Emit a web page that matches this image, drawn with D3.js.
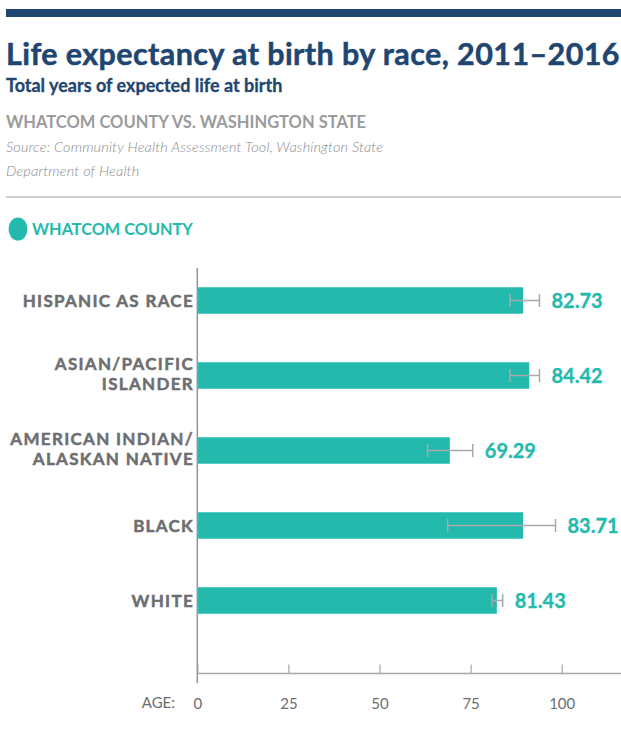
<!DOCTYPE html>
<html lang="en">
<head>
    <meta charset="UTF-8">
    <title>Life expectancy at birth by race</title>
    <script src="https://cdn.jsdelivr.net/npm/d3@7"></script>
    <style>
        body { margin: 0; background: #fff; }
        text { font-family: Lato, "Open Sans", sans-serif; }
    </style>
</head>
<body>
    <svg id="main" width="621" height="754"></svg>
    <script>
        // data
        const categories = [['HISPANIC AS RACE'], ['ASIAN/PACIFIC', 'ISLANDER'],
            ['AMERICAN INDIAN/', 'ALASKAN NATIVE'], ['BLACK'], ['WHITE']];
        const barValues = [89.4, 91.1, 69.3, 89.4, 82.2];   // drawn bar lengths
        const valueLabels = ['82.73', '84.42', '69.29', '83.71', '81.43'];
        const errLow = [85.8, 85.8, 63.2, 68.7, 80.9];
        const errHigh = [93.9, 93.9, 75.6, 98.3, 83.8];
        const ticks = [0, 25, 50, 75, 100];

        const teal = '#23baad';
        const navy = '#1f4670';
        const grey = '#6d6e71';

        let svg = d3.select('svg#main');

        // header
        svg.append('rect').attr('x', 6).attr('y', 9).attr('width', 615).attr('height', 8).attr('fill', navy);
        svg.append('text').attr('x', 6).attr('y', 65)
            .attr('font-size', 30.5).attr('font-weight', 700).attr('letter-spacing', 0.4)
            .attr('fill', navy).attr('stroke', navy).attr('stroke-width', 0.5)
            .text('Life expectancy at birth by race, 2011\u20132016');
        svg.append('text').attr('x', 6).attr('y', 92)
            .attr('font-size', 18).attr('font-weight', 700).attr('fill', navy)
            .attr('stroke', navy).attr('stroke-width', 0.3)
            .text('Total years of expected life at birth');
        svg.append('text').attr('x', 6).attr('y', 128)
            .attr('font-size', 16.5).attr('font-weight', 700).attr('fill', '#9a9b9d')
            .text('WHATCOM COUNTY VS. WASHINGTON STATE');
        svg.append('text').attr('x', 6).attr('y', 152)
            .attr('font-size', 14.5).attr('font-weight', 300).attr('font-style', 'italic')
            .attr('letter-spacing', 0.15).attr('fill', '#8a8b8d')
            .text('Source: Community Health Assessment Tool, Washington State');
        svg.append('text').attr('x', 6).attr('y', 176)
            .attr('font-size', 14.5).attr('font-weight', 300).attr('font-style', 'italic')
            .attr('letter-spacing', 0.15).attr('fill', '#8a8b8d')
            .text('Department of Health');
        svg.append('line').attr('x1', 6).attr('x2', 621).attr('y1', 197).attr('y2', 197)
            .attr('stroke', '#bcbdc0').attr('stroke-width', 1.5);

        // legend
        svg.append('ellipse').attr('cx', 18).attr('cy', 229).attr('rx', 9.5).attr('ry', 11.5).attr('fill', teal);
        svg.append('text').attr('x', 32).attr('y', 235)
            .attr('font-size', 16.3).attr('font-weight', 700).attr('fill', teal)
            .text('WHATCOM COUNTY');

        // scales
        let xScale = d3.scaleLinear().domain([0, 100]).range([197.3, 561.7]);
        let yScale = d3.scaleBand().domain(d3.range(categories.length))
            .range([263, 638]).paddingInner(0.647).paddingOuter(0.3235);

        // x axis
        let xAxis = svg.append('g').attr('transform', 'translate(0,673.5)')
            .call(d3.axisBottom(xScale).tickValues(ticks).tickSize(-9).tickPadding(25));
        xAxis.select('.domain').remove();
        xAxis.append('line').attr('x1', xScale(0)).attr('x2', 621)
            .attr('stroke', '#a7a9ac').attr('stroke-width', 1.5);
        xAxis.selectAll('.tick line').attr('stroke', '#a7a9ac').attr('stroke-width', 1.2);
        xAxis.selectAll('.tick text').attr('fill', grey).attr('font-size', 15)
            .attr('font-family', 'Lato, sans-serif');
        svg.append('text').attr('x', 175).attr('y', 708).attr('text-anchor', 'end')
            .attr('font-size', 15).attr('fill', grey).text('AGE:');

        // y axis line
        svg.append('line').attr('x1', xScale(0)).attr('x2', xScale(0)).attr('y1', 268).attr('y2', 683)
            .attr('stroke', '#939598').attr('stroke-width', 1.5);

        let rows = svg.selectAll('g.row')
            .data(categories)
            .enter()
            .append('g')
            .attr('class', 'row');

        // bars
        rows.append('rect')
            .attr('x', xScale(0) + 0.75)
            .attr('y', function(d, i) { return yScale(i); })
            .attr('width', function(d, i) { return xScale(barValues[i]) - xScale(0) - 0.75; })
            .attr('height', yScale.bandwidth())
            .attr('fill', teal);

        // error bars
        let cy = function(i) { return yScale(i) + yScale.bandwidth() / 2; };
        rows.append('line')
            .attr('x1', function(d, i) { return xScale(errLow[i]); })
            .attr('x2', function(d, i) { return xScale(errHigh[i]); })
            .attr('y1', function(d, i) { return cy(i); })
            .attr('y2', function(d, i) { return cy(i); })
            .attr('stroke', '#a7a9ac').attr('stroke-width', 1.5);
        [errLow, errHigh].forEach(function(arr) {
            rows.append('line')
                .attr('x1', function(d, i) { return xScale(arr[i]); })
                .attr('x2', function(d, i) { return xScale(arr[i]); })
                .attr('y1', function(d, i) { return cy(i) - 6.5; })
                .attr('y2', function(d, i) { return cy(i) + 6.5; })
                .attr('stroke', '#a7a9ac').attr('stroke-width', 1.5);
        });

        // value labels
        rows.append('text')
            .attr('x', function(d, i) { return xScale(errHigh[i]) + 12; })
            .attr('y', function(d, i) { return cy(i) + 7.5; })
            .attr('font-size', 20).attr('font-weight', 700).attr('fill', teal)
            .attr('stroke', teal).attr('stroke-width', 0.3)
            .text(function(d, i) { return valueLabels[i]; });

        // category labels
        rows.append('text')
            .attr('text-anchor', 'end')
            .attr('font-size', 17).attr('font-weight', 700).attr('letter-spacing', 1.3)
            .attr('fill', grey).attr('stroke', grey).attr('stroke-width', 0.5)
            .each(function(d, i) {
                let t = d3.select(this);
                let y0 = d.length > 1 ? cy(i) - 6 : cy(i) + 6;
                d.forEach(function(line, j) {
                    t.append('tspan').attr('x', 194).attr('y', y0 + j * 20.5).text(line);
                });
            });
    </script>
</body>
</html>
